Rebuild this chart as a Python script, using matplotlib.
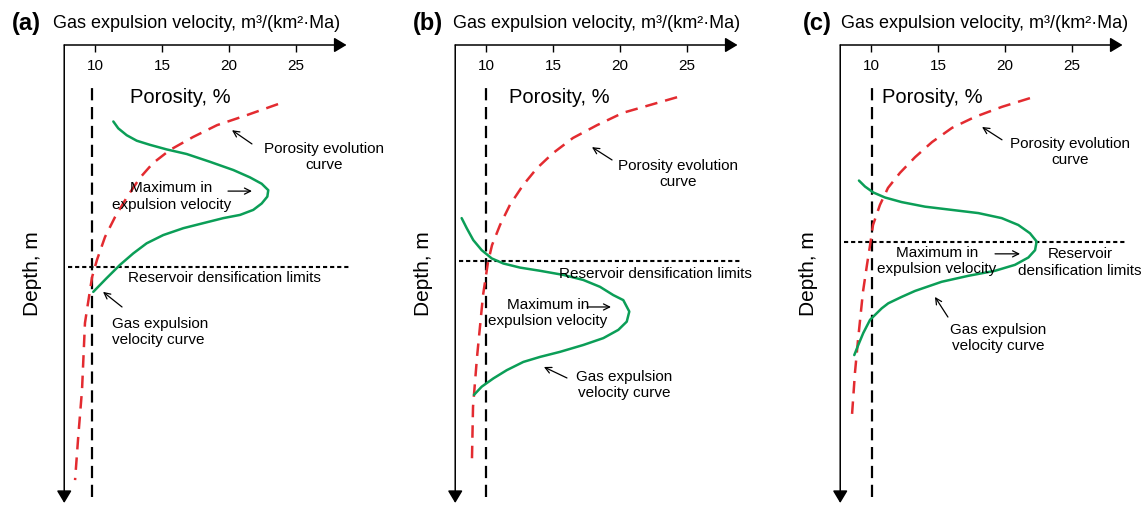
import matplotlib.pyplot as plt

plt.rcParams['font.family'] = ['Liberation Sans', 'DejaVu Sans']

panel_tags = ['(a)', '(b)', '(c)']
porosity_ticks = [10, 15, 20, 25]
axis_title = 'Gas expulsion velocity, m³/(km²·Ma)'

# porosity evolution curves: porosity (%) vs. relative depth (0 = top, 100 = bottom)
por_a_x = [23.68, 21.36, 19.12, 17.32, 15.61, 14.33, 13.36, 12.39, 11.49, 10.75,
           10.15, 9.78, 9.48, 9.25, 9.03, 8.73, 8.51]
por_a_d = [12.9, 15.3, 17.5, 20.1, 22.9, 25.8, 29.0, 33.2, 37.6, 41.9,
           46.9, 50.7, 56.3, 60.7, 75.3, 86.2, 95.0]
por_b_x = [24.28, 22.26, 20.24, 18.30, 16.50, 15.01, 13.81, 12.77, 11.79, 11.05,
           10.45, 10.15, 9.78, 9.33, 9.03, 8.95]
por_b_d = [11.4, 13.1, 14.8, 17.5, 20.3, 23.6, 26.9, 30.6, 34.9, 39.3,
           43.7, 47.4, 54.6, 68.1, 79.0, 90.6]
por_c_x = [21.88, 19.79, 17.77, 16.05, 14.56, 13.29, 12.17, 11.27, 10.67, 10.15,
           9.93, 9.70, 9.40, 9.03, 8.80, 8.58]
por_c_d = [11.6, 13.5, 15.7, 18.1, 21.2, 24.5, 27.9, 31.2, 34.9, 39.3,
           43.7, 48.0, 53.9, 64.4, 71.6, 80.8]

# gas expulsion velocity curves, same axes
gas_a_x = [11.37, 11.74, 12.37, 13.12, 14.11, 15.36, 16.85, 18.59, 20.34, 21.58,
           22.46, 22.95, 22.88, 22.46, 21.83, 20.84, 19.59, 18.09, 16.60, 15.10,
           13.86, 12.86, 11.87, 10.87, 9.87]
gas_a_d = [16.7, 18.2, 19.7, 20.9, 21.8, 22.8, 23.8, 25.5, 27.3, 28.9,
           30.3, 31.7, 33.1, 34.6, 36.0, 37.1, 37.8, 38.9, 40.0, 41.5,
           43.3, 45.5, 48.0, 50.9, 53.9]
gas_b_x = [8.18, 8.56, 9.05, 9.68, 10.43, 11.29, 12.54, 14.04, 15.78, 17.27,
           18.52, 19.51, 20.26, 20.71, 20.52, 19.89, 18.77, 17.27, 15.53, 14.04,
           12.79, 11.55, 10.55, 9.68, 9.10]
gas_b_d = [37.8, 40.0, 42.6, 44.8, 46.6, 47.7, 48.6, 49.3, 50.2, 51.3,
           52.8, 54.6, 55.7, 58.2, 60.4, 62.2, 64.0, 65.5, 67.0, 68.1,
           69.2, 71.0, 72.8, 74.6, 76.4]
gas_c_x = [9.10, 9.55, 10.17, 11.05, 12.29, 14.04, 16.03, 18.02, 19.77, 21.01,
           21.88, 22.38, 22.26, 21.76, 20.76, 19.27, 17.27, 15.28, 13.29, 12.29,
           11.29, 10.80, 9.93, 9.42, 9.05, 8.75]
gas_c_d = [29.6, 30.9, 32.2, 33.3, 34.3, 35.3, 36.0, 36.7, 37.8, 39.3,
           41.1, 42.9, 44.8, 46.4, 48.0, 49.3, 50.4, 51.7, 53.7, 55.0,
           56.4, 57.5, 60.0, 62.9, 65.5, 67.7]

# porosity cut-off and depth of reservoir densification for each case
limit_porosity = [9.8, 10.0, 10.05]
limit_depth = [48.5, 47.2, 43.0]

RED = '#e32b30'
GREEN = '#0b9e57'
PX = 13.38        # pixels per porosity unit
X0, X1 = 7.7, 28.8

fig = plt.figure(figsize=(11.48, 5.05), dpi=100)


def make_axes(px10):
    ax = fig.add_axes([(px10 - (10 - X0) * PX) / 1148, 2 / 505,
                       (X1 - X0) * PX / 1148, 458 / 505])
    ax.set_xlim(X0, X1)
    ax.set_ylim(100, 0)
    for s in ax.spines.values():
        s.set_visible(False)
    ax.set_yticks([])
    ax.set_xticks(porosity_ticks)
    ax.xaxis.set_ticks_position('top')
    ax.tick_params(axis='x', direction='in', length=5, width=1, labelsize=11,
                   pad=-20, labeltop=True, labelbottom=False)
    head = dict(arrowstyle='-|>,head_length=0.75,head_width=0.45', color='black',
                lw=1.1, mutation_scale=10, shrinkA=0, shrinkB=0)
    ax.annotate('', xy=(1, 1), xytext=(0, 1), xycoords='axes fraction',
                arrowprops=head, annotation_clip=False)
    ax.annotate('', xy=(0, 0), xytext=(0, 1), xycoords='axes fraction',
                arrowprops=head, annotation_clip=False)
    ax.set_ylabel('Depth, m', fontsize=15, labelpad=16)
    return ax


def pointer(ax, tail, tip):
    ax.annotate('', xy=tip, xytext=tail,
                arrowprops=dict(arrowstyle='->', color='black', lw=0.9,
                                mutation_scale=11, shrinkA=0, shrinkB=0))


def draw_case(ax, i, por_x, por_d, gas_x, gas_d):
    ax.axvline(limit_porosity[i], ymin=0.013, ymax=0.913, color='black',
               lw=1.6, dashes=(5.5, 3))
    ax.axhline(limit_depth[i], xmin=0.013, xmax=1.017, color='black',
               lw=1.5, dashes=(2, 1.4), clip_on=False)
    ax.plot(por_x, por_d, color=RED, lw=1.8, dashes=(5, 3.2))
    ax.plot(gas_x, gas_d, color=GREEN, lw=1.8, solid_joinstyle='round',
            solid_capstyle='round')


axes = [make_axes(95), make_axes(486), make_axes(871)]
draw_case(axes[0], 0, por_a_x, por_a_d, gas_a_x, gas_a_d)
draw_case(axes[1], 1, por_b_x, por_b_d, gas_b_x, gas_b_d)
draw_case(axes[2], 2, por_c_x, por_c_d, gas_c_x, gas_c_d)

tag_x = [3.8, 4.55, 4.92]
title_x = [6.86, 7.53, 7.76]
for ax, tag, tx, lx in zip(axes, panel_tags, tag_x, title_x):
    ax.text(tx, -4.6, tag, fontsize=17, fontweight='bold', va='center')
    ax.text(lx, -4.6, axis_title, fontsize=13, va='center')

txt = dict(fontsize=11, ha='center', va='center')

# (a) velocity peak above the densification limit
ax = axes[0]
ax.text(12.6, 11.4, 'Porosity, %', fontsize=14.5, va='center')
ax.text(27.1, 24.5, 'Porosity evolution\ncurve', **txt)
pointer(ax, (21.73, 21.6), (20.24, 18.6))
ax.text(15.72, 33.1, 'Maximum in\nexpulsion velocity', **txt)
pointer(ax, (19.94, 31.9), (21.73, 31.9))
ax.text(19.64, 50.9, 'Reservoir densification limits', **txt)
ax.text(11.27, 62.7, 'Gas expulsion\nvelocity curve', fontsize=11, va='center')
pointer(ax, (12.02, 57.2), (10.60, 53.9))

# (b) velocity peak below the densification limit
ax = axes[1]
ax.text(11.72, 11.4, 'Porosity, %', fontsize=14.5, va='center')
ax.text(24.35, 28.1, 'Porosity evolution\ncurve', **txt)
pointer(ax, (19.42, 25.1), (17.92, 22.3))
ax.text(22.63, 50.0, 'Reservoir densification limits', **txt)
ax.text(14.63, 58.5, 'Maximum in\nexpulsion velocity', **txt)
pointer(ax, (17.55, 57.2), (19.34, 57.2))
ax.text(20.31, 74.3, 'Gas expulsion\nvelocity curve', **txt)
pointer(ax, (16.05, 72.7), (14.33, 70.3))

# (c) velocity peak at the densification limit
ax = axes[2]
ax.text(10.82, 11.4, 'Porosity, %', fontsize=14.5, va='center')
ax.text(24.87, 23.3, 'Porosity evolution\ncurve', **txt)
pointer(ax, (19.79, 20.7), (18.30, 17.9))
ax.text(14.93, 47.2, 'Maximum in\nexpulsion velocity', **txt)
pointer(ax, (19.27, 45.6), (21.14, 45.6))
ax.text(25.62, 47.5, 'Reservoir\ndensification limits', **txt)
ax.text(19.49, 64.0, 'Gas expulsion\nvelocity curve', **txt)
pointer(ax, (15.75, 59.4), (14.78, 55.0))

fig.savefig('out.png', dpi=100)
